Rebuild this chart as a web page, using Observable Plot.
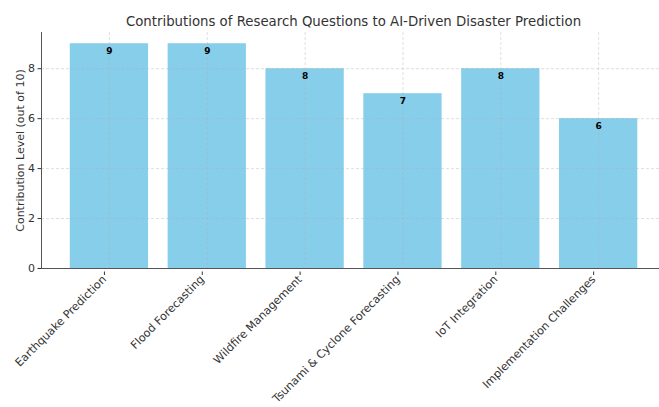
<!DOCTYPE html>
<html>
<head>
<meta charset="utf-8">
<script src="https://cdn.jsdelivr.net/npm/d3@7"></script>
<script src="https://cdn.jsdelivr.net/npm/@observablehq/plot@0.6"></script>
<style>
  html, body { margin: 0; padding: 0; background: #fff; }
  #chart svg { font-family: "DejaVu Sans", sans-serif; display: block; }
</style>
</head>
<body>
<div id="chart"></div>
<script>
const categories = [
  "Earthquake Prediction",
  "Flood Forecasting",
  "Wildfire Management",
  "Tsunami & Cyclone Forecasting",
  "IoT Integration",
  "Implementation Challenges"
];
const values = [9, 9, 8, 7, 8, 6];
const yTicks = [0, 2, 4, 6, 8];
const title = "Contributions of Research Questions to AI-Driven Disaster Prediction";
const yLabel = "Contribution Level (out of 10)";

const data = categories.map((c, i) => ({category: c, value: values[i]}));
const gridStyle = {stroke: "#b0b0b0", strokeOpacity: 0.5, strokeDasharray: "3,2", strokeWidth: 0.8};

const chart = Plot.plot({
  width: 659,
  height: 407,
  marginTop: 32,
  marginBottom: 139,
  marginLeft: 41,
  marginRight: 0,
  style: {fontFamily: "DejaVu Sans, sans-serif", color: "#222", background: "#fff"},
  x: {type: "band", domain: categories, paddingInner: 0.2, paddingOuter: 0.258, align: 0.57, round: false},
  y: {domain: [0, 9.45], round: false},
  marks: [
    Plot.barY(data, {x: "category", y: "value", fill: "#87CEEB"}),
    Plot.gridX(categories, {...gridStyle}),
    Plot.gridY(yTicks, {...gridStyle}),
    Plot.text(data, {x: "category", y: "value", text: d => String(d.value), dy: 7, lineAnchor: "middle", fontWeight: "bold", fontSize: 9, fill: "#000"}),
    Plot.axisY(yTicks, {tickSize: 3.5, tickPadding: 3, fontSize: 11, label: null, stroke: "#333", fill: "#333"}),
    Plot.axisX({tickSize: 3.5, tickPadding: 2, tickRotate: -45, fontSize: 11.2, label: null, stroke: "#333", fill: "#333", dx: -5, dy: 3.5}),
    Plot.ruleY([0], {stroke: "#555", strokeWidth: 1}),
    Plot.frame({anchor: "left", stroke: "#555", strokeWidth: 1}),
    Plot.text([yLabel], {frameAnchor: "left", rotate: -90, dx: -21, fontSize: 11, fill: "#333", lineAnchor: "middle", textAnchor: "middle"}),
    Plot.text([title], {frameAnchor: "top", dy: -11, dx: 3, fontSize: 13.3, fill: "#333", lineAnchor: "middle"})
  ]
});
document.getElementById("chart").appendChild(chart);
</script>
</body>
</html>
